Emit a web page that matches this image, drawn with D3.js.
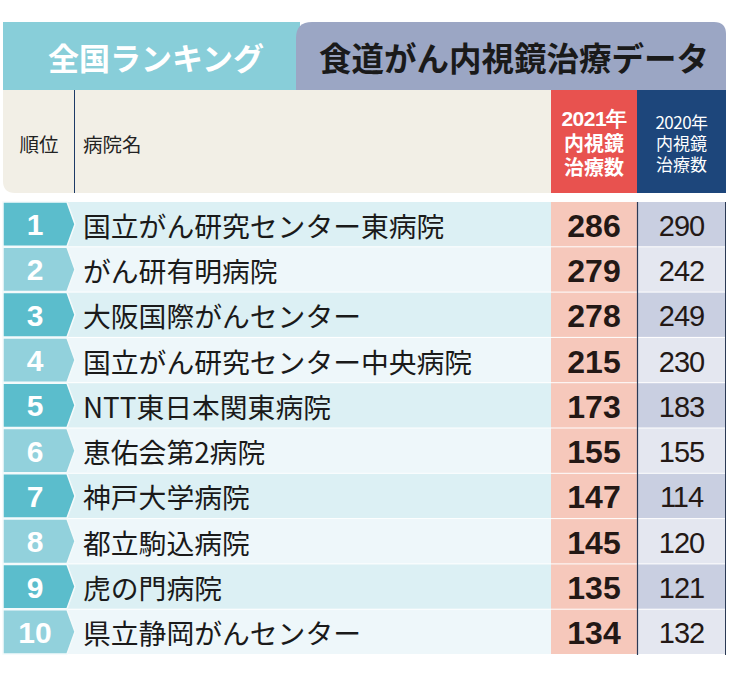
<!DOCTYPE html>
<html><head><meta charset="utf-8">
<script src="https://cdn.jsdelivr.net/npm/d3@7"></script>
<style>html,body{margin:0;padding:0;background:#fff;}</style>
</head><body>
<svg id="c" width="731" height="673"></svg>
<script>
const ranks = ["1","2","3","4","5","6","7","8","9","10"];
const hospitals = ["国立がん研究センター東病院","がん研有明病院","大阪国際がんセンター","国立がん研究センター中央病院","NTT東日本関東病院","恵佑会第2病院","神戸大学病院","都立駒込病院","虎の門病院","県立静岡がんセンター"];
const values2021 = [286,279,278,215,173,155,147,145,135,134];
const values2020 = [290,242,249,230,183,155,114,120,121,132];
const titleLeft = "全国ランキング";
const titleRight = "食道がん内視鏡治療データ";
const headRank = "順位", headName = "病院名";
const head2021 = ["2021年","内視鏡","治療数"];
const head2020 = ["2020年","内視鏡","治療数"];

const JP = "'Noto Sans CJK JP','Noto Sans',sans-serif";
const NUM = "'Liberation Sans',Arial,sans-serif";
const svg = d3.select("#c");

const L = 3, R = 726, xRankEnd = 67, xTip = 75, xC1 = 551, xC2 = 637;
const y = d3.scaleBand().domain(ranks).range([202, 655]).paddingInner(0);
const bw = y.bandwidth();

// ---- title band
svg.append("rect").attr("x",L).attr("y",22).attr("width",300-L).attr("height",68).attr("fill","#88ced9");
svg.append("path").attr("d",`M296,90 V38 Q296,22 312,22 H714 Q726,22 726,34 V90 Z`).attr("fill","#9ba6c4");
svg.append("text").attr("x",156).attr("y",56).attr("text-anchor","middle").attr("dominant-baseline","central")
  .attr("font-family",JP).attr("font-weight",700).attr("font-size",31).attr("fill","#fff").text(titleLeft);
svg.append("text").attr("x",514).attr("y",56).attr("text-anchor","middle").attr("dominant-baseline","central")
  .attr("font-family",JP).attr("font-weight",700).attr("font-size",32.5).attr("fill","#1a1a1a").text(titleRight);

// ---- header row
svg.append("path").attr("d",`M${L},90 H${xC1} V193 H${L+12} Q${L},193 ${L},181 Z`).attr("fill","#f2efe6");
svg.append("rect").attr("x",xC1).attr("y",90).attr("width",xC2-xC1).attr("height",103).attr("fill","#e8524f");
svg.append("rect").attr("x",xC2).attr("y",90).attr("width",R-xC2).attr("height",103).attr("fill","#1d467b");
svg.append("line").attr("x1",74.5).attr("x2",74.5).attr("y1",90).attr("y2",193).attr("stroke","#1d3a66").attr("stroke-width",1);
svg.append("text").attr("x",39).attr("y",143).attr("text-anchor","middle").attr("dominant-baseline","central")
  .attr("font-family",JP).attr("font-size",19.5).attr("fill","#222").text(headRank);
svg.append("text").attr("x",83).attr("y",143).attr("dominant-baseline","central")
  .attr("font-family",JP).attr("font-size",19.5).attr("fill","#222").text(headName);

const h21 = svg.append("text").attr("text-anchor","middle").attr("dominant-baseline","central")
  .attr("font-family",JP).attr("font-weight",700).attr("font-size",20).attr("fill","#fff");
head2021.forEach((t,i)=>{
  h21.append("tspan").attr("x",(xC1+xC2)/2).attr("y",118+i*24)
    .attr("font-family",i===0?NUM:JP).attr("font-size",i===0?21:20).attr("letter-spacing",i===0?-0.5:0).text(t);
});
const h20 = svg.append("text").attr("text-anchor","middle").attr("dominant-baseline","central")
  .attr("font-family",JP).attr("font-size",17).attr("fill","#fff");
head2020.forEach((t,i)=>{
  h20.append("tspan").attr("x",(xC2+R)/2).attr("y",121+i*21).attr("letter-spacing",i===0?-0.5:0).text(t);
});

// ---- rows
const rows = svg.append("g").selectAll("g").data(ranks).join("g");
rows.append("rect").attr("x",L).attr("y",d=>y(d)).attr("width",xC1-L).attr("height",bw-1)
  .attr("fill",(d,i)=>i%2===0?"#dcf0f4":"#eef7fa");
rows.append("rect").attr("x",xC1).attr("y",d=>y(d)).attr("width",xC2-xC1).attr("height",bw-1).attr("fill","#f6c8bb");
rows.append("rect").attr("x",xC2).attr("y",d=>y(d)).attr("width",R-xC2).attr("height",bw-1)
  .attr("fill",(d,i)=>i%2===0?"#c9cfe1":"#e4e7f0");
rows.append("path").attr("d",d=>{const t=y(d), b=y(d)+bw-1, m=(t+b)/2;
    return `M${L},${t} H${xRankEnd} L${xTip},${m} L${xRankEnd},${b} H${L} Z`;})
  .attr("fill",(d,i)=>i%2===0?"#5bbdcc":"#92d1dc").attr("stroke","#f4fafb").attr("stroke-width",1.5);
rows.append("text").attr("x",35).attr("y",d=>y(d)+bw/2).attr("text-anchor","middle").attr("dominant-baseline","central")
  .attr("font-family",NUM).attr("font-weight",700).attr("font-size",30).attr("fill","#fff").text(d=>d);
rows.append("text").attr("x",83).attr("y",d=>y(d)+bw/2).attr("dominant-baseline","central")
  .attr("font-family",JP).attr("font-weight",400).attr("font-size",27.8).attr("fill","#1a1a1a").text((d,i)=>hospitals[i]);
rows.append("text").attr("x",(xC1+xC2)/2).attr("y",d=>y(d)+bw/2+1).attr("text-anchor","middle").attr("dominant-baseline","central")
  .attr("font-family",NUM).attr("font-weight",700).attr("font-size",32).attr("fill","#231815").text((d,i)=>values2021[i]);
rows.append("text").attr("x",(xC2+R)/2).attr("y",d=>y(d)+bw/2+1).attr("text-anchor","middle").attr("dominant-baseline","central")
  .attr("font-family",NUM).attr("font-size",29).attr("fill","#231815").attr("letter-spacing",-1).text((d,i)=>values2020[i]);

svg.append("line").attr("x1",xC2+0.5).attr("x2",xC2+0.5).attr("y1",y.range()[0]).attr("y2",y.range()[1]).attr("stroke","#2b3a55").attr("stroke-width",1.2);
svg.append("line").attr("x1",R-0.5).attr("x2",R-0.5).attr("y1",y.range()[0]).attr("y2",y.range()[1]).attr("stroke","#2b3a55").attr("stroke-width",1);
</script>
</body></html>
